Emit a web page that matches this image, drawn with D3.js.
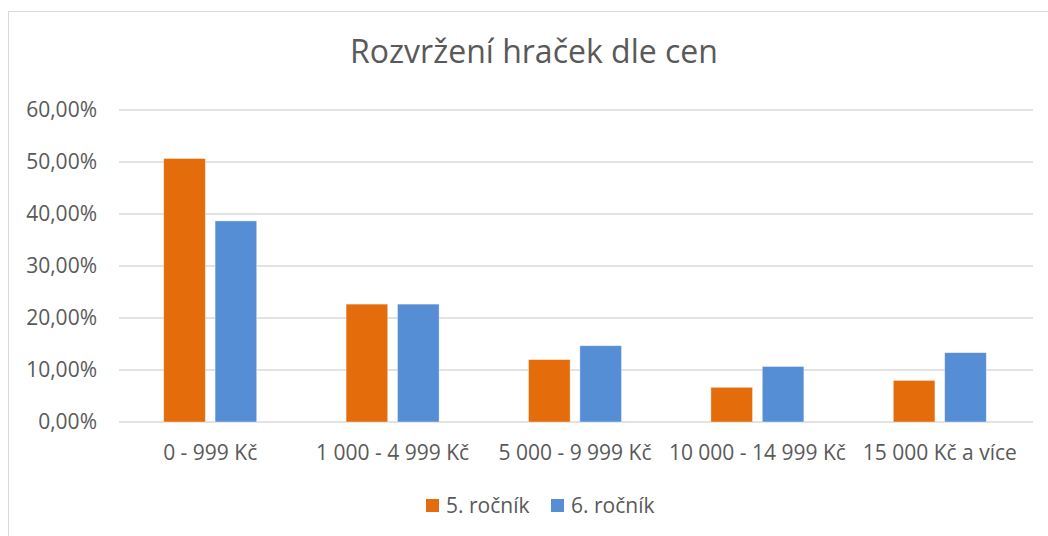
<!DOCTYPE html>
<html>
<head>
<meta charset="utf-8">
<script src="https://cdn.jsdelivr.net/npm/d3@7"></script>
<style>
  body { margin: 0; background: #fff; }
  text { font-family: "Open Sans", sans-serif; fill: #595959; }
</style>
</head>
<body>
<script>
// data (shares out of 75 answers)
var categories = ["0 - 999 Kč", "1 000 - 4 999 Kč", "5 000 - 9 999 Kč", "10 000 - 14 999 Kč", "15 000 Kč a více"];
var seriesNames = ["5. ročník", "6. ročník"];
var rocnik5 = [0.5067, 0.2267, 0.12, 0.0667, 0.08];
var rocnik6 = [0.3867, 0.2267, 0.1467, 0.1067, 0.1333];
var yTicks = [0, 0.1, 0.2, 0.3, 0.4, 0.5, 0.6];
var colors = ["#E46C0A", "#558ED5"];

var w = 1048, h = 536;
var plotLeft = 119, plotRight = 1031, plotTop = 110, plotBottom = 422;

var svg = d3.select("body").append("svg")
  .attr("width", w)
  .attr("height", h);

// chart frame (runs past the right and bottom edge in the reference)
svg.append("rect")
  .attr("x", 8.5).attr("y", 11.5)
  .attr("width", w + 20).attr("height", h + 20)
  .attr("fill", "#fff")
  .attr("stroke", "#D9D9D9");

svg.append("text")
  .attr("x", 534).attr("y", 63)
  .attr("text-anchor", "middle")
  .style("font-size", "32px")
  .text("Rozvržení hraček dle cen");

var y = d3.scaleLinear().domain([0, 0.6]).range([plotBottom, plotTop]);
var x0 = d3.scaleBand().domain(categories).range([plotLeft, plotRight]);
var x1 = d3.scaleBand().domain(seriesNames).range([0, x0.bandwidth()])
  .paddingInner(0.19).paddingOuter(0.87);

var fmt = function(d) { return d3.format(".2f")(d * 100).replace(".", ",") + "%"; };

// gridlines
svg.append("g").selectAll("line")
  .data(yTicks)
  .enter().append("line")
  .attr("x1", plotLeft).attr("x2", plotRight + 2)
  .attr("y1", function(d) { return y(d); })
  .attr("y2", function(d) { return y(d); })
  .attr("stroke", "#D9D9D9")
  .attr("stroke-width", 1.5);

// y labels
svg.append("g").selectAll("text")
  .data(yTicks)
  .enter().append("text")
  .attr("x", 97)
  .attr("y", function(d) { return y(d) + 7; })
  .attr("text-anchor", "end")
  .style("font-size", "21px")
  .text(fmt);

// bars
var series = [rocnik5, rocnik6];
series.forEach(function(vals, s) {
  svg.append("g").selectAll("rect")
    .data(vals)
    .enter().append("rect")
    .attr("x", function(d, i) { return x0(categories[i]) + x1(seriesNames[s]); })
    .attr("y", function(d) { return y(d); })
    .attr("width", x1.bandwidth())
    .attr("height", function(d) { return plotBottom - y(d); })
    .attr("fill", colors[s])
    .attr("stroke", "#fff")
    .attr("stroke-opacity", 0.5)
    .attr("stroke-width", 0.75);
});

// category labels
svg.append("g").selectAll("text")
  .data(categories)
  .enter().append("text")
  .attr("x", function(d) { return x0(d) + x0.bandwidth() / 2; })
  .attr("y", 460)
  .attr("text-anchor", "middle")
  .style("font-size", "21px")
  .text(function(d) { return d; });

// legend
var legX = [426, 551];
seriesNames.forEach(function(name, s) {
  svg.append("rect")
    .attr("x", legX[s]).attr("y", 499)
    .attr("width", 13).attr("height", 13)
    .attr("fill", colors[s]);
  svg.append("text")
    .attr("x", legX[s] + 20).attr("y", 513)
    .style("font-size", "21px")
    .text(name);
});
</script>
</body>
</html>
